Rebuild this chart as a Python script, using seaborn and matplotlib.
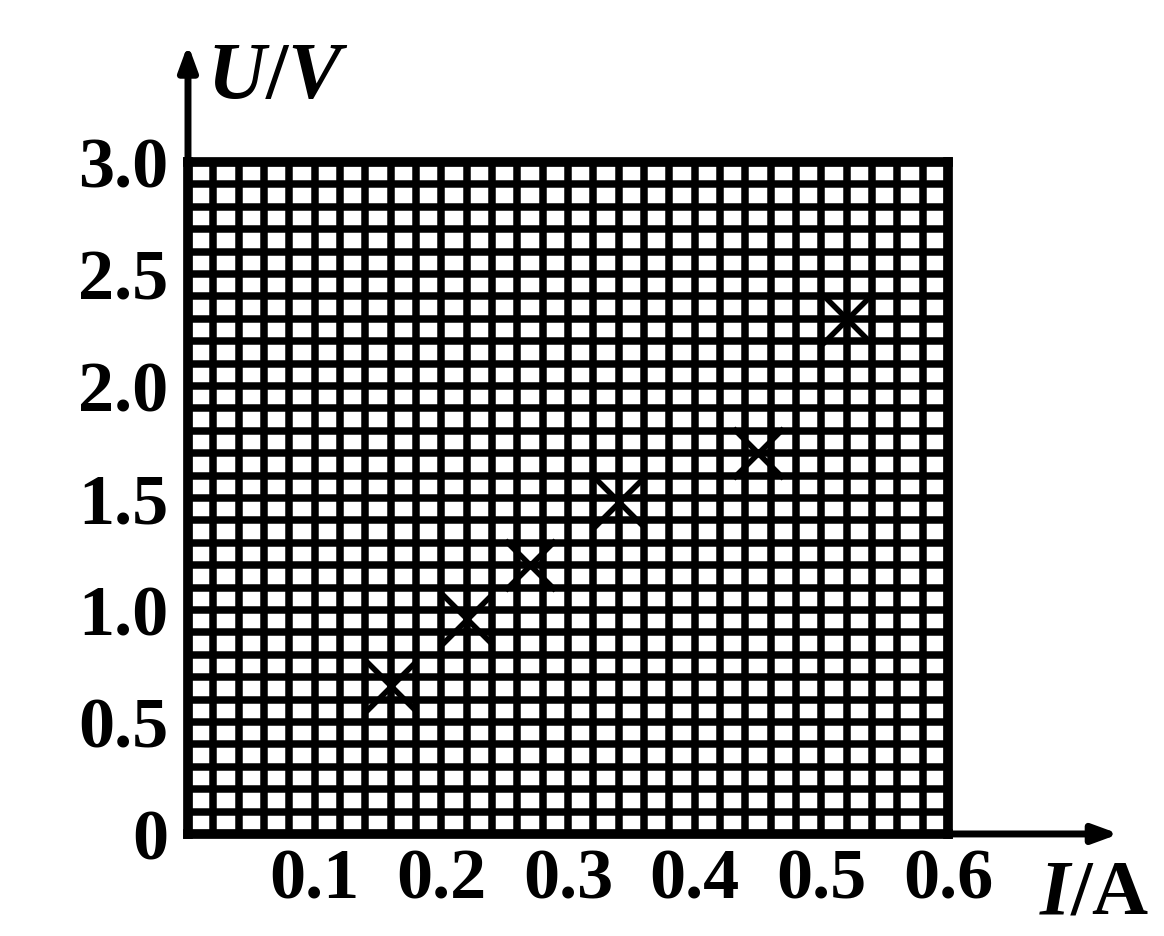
import matplotlib
matplotlib.use("Agg")
import matplotlib.pyplot as plt
from matplotlib.ticker import MultipleLocator
import seaborn as sns
import pandas as pd

# measured points (I in A, U in V)
current = [0.16, 0.22, 0.27, 0.34, 0.45, 0.52]
voltage = [0.66, 0.96, 1.20, 1.48, 1.70, 2.30]
x_ticks = [0.1, 0.2, 0.3, 0.4, 0.5, 0.6]
x_labels = ["0.1", "0.2", "0.3", "0.4", "0.5", "0.6"]
y_ticks = [0, 0.5, 1.0, 1.5, 2.0, 2.5, 3.0]
y_labels = ["0", "0.5", "1.0", "1.5", "2.0", "2.5", "3.0"]

df = pd.DataFrame({"I": current, "U": voltage})

sns.set_style("white")
plt.rcParams["font.family"] = ["Liberation Serif", "DejaVu Serif"]
plt.rcParams["font.weight"] = "bold"
plt.rcParams["text.color"] = "black"
plt.rcParams["xtick.color"] = "black"
plt.rcParams["ytick.color"] = "black"
plt.rcParams["mathtext.fontset"] = "custom"
plt.rcParams["mathtext.it"] = "Liberation Serif:italic:bold"
plt.rcParams["mathtext.rm"] = "Liberation Serif:bold"

fig = plt.figure(figsize=(11.64, 9.37), dpi=100)
ax = fig.add_axes([0.1615, 0.1089, 0.653, 0.7172])

ax.set_xlim(0, 0.6)
ax.set_ylim(0, 3.0)

# dense graph-paper grid
ax.xaxis.set_minor_locator(MultipleLocator(0.02))
ax.yaxis.set_minor_locator(MultipleLocator(0.1))
ax.grid(which="both", color="black", linewidth=5.4)
ax.set_axisbelow(True)

sns.scatterplot(data=df, x="I", y="U", marker="x", s=1300, color="black",
                linewidth=4, ax=ax, zorder=5, clip_on=False)

ax.set_xticks(x_ticks)
ax.set_xticklabels(x_labels, fontsize=52, fontweight="bold")
ax.set_yticks(y_ticks)
ax.set_yticklabels(y_labels, fontsize=52, fontweight="bold")
ax.tick_params(axis="both", which="both", length=0)
ax.tick_params(axis="x", pad=10)
ax.tick_params(axis="y", pad=14)
ax.set_xlabel("")
ax.set_ylabel("")

for side in ["top", "right", "bottom", "left"]:
    ax.spines[side].set_linewidth(7)
    ax.spines[side].set_color("black")

# axis arrows
ax.annotate("", xy=(0, 1.175), xytext=(0, 0), xycoords="axes fraction",
            arrowprops=dict(arrowstyle="-|>,head_length=1.5,head_width=0.55",
                            color="black", lw=5, shrinkA=0, shrinkB=0),
            annotation_clip=False)
ax.annotate("", xy=(1.225, 0), xytext=(0, 0), xycoords="axes fraction",
            arrowprops=dict(arrowstyle="-|>,head_length=1.5,head_width=0.55",
                            color="black", lw=5, shrinkA=0, shrinkB=0),
            annotation_clip=False)

ax.text(0.025, 1.125, r"$U/V$", transform=ax.transAxes, fontsize=58,
        ha="left", va="center")
ax.text(1.265, -0.09, r"$I$/A", transform=ax.transAxes, fontsize=56,
        ha="right", va="center")

fig.savefig("out.png", dpi=100)
